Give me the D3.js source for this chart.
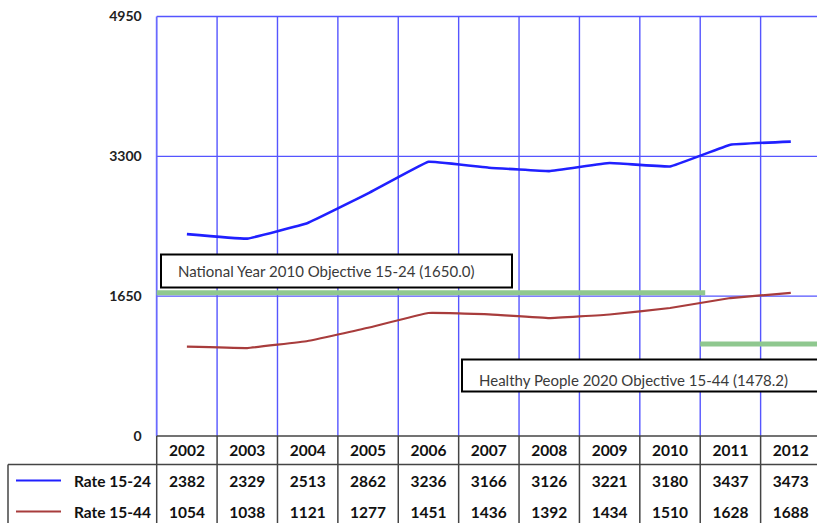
<!DOCTYPE html>
<html><head><meta charset="utf-8">
<script src="https://cdn.jsdelivr.net/npm/d3@7"></script>
<style>body{margin:0;background:#fff;}svg{display:block;}</style>
</head><body>
<svg id="c" width="817" height="523"></svg>
<script>
const years = ["2002","2003","2004","2005","2006","2007","2008","2009","2010","2011","2012"];
const rate1524 = [2382,2329,2513,2862,3236,3166,3126,3221,3180,3437,3473];
const rate1544 = [1054,1038,1121,1277,1451,1436,1392,1434,1510,1628,1688];
const seriesNames = ["Rate 15-24","Rate 15-44"];
const yTicks = [0,1650,3300,4950];
const objectiveLabels = ["National Year 2010 Objective 15-24 (1650.0)","Healthy People 2020 Objective 15-44 (1478.2)"];
const objectiveLevels = [1690,1085]; // drawn levels
const objectiveSpans = [["2002","2010"],["2011","2012"]];

(function(){
const svg = d3.select("#c");
const pLeft = 156.7, pRight = 821, pTop = 16.5, pBottom = 436;
const x = d3.scaleBand().domain(years).range([pLeft, pRight]);
const y = d3.scaleLinear().domain([0, 4950]).range([pBottom, pTop]);
const font = "Lato, 'Open Sans', sans-serif";
const gridColor = "#5555ff";

// gridlines
const g = svg.append("g");
g.selectAll("line.v").data(years.slice(1)).enter().append("line")
  .attr("x1", d => x(d)).attr("x2", d => x(d)).attr("y1", pTop).attr("y2", pBottom)
  .attr("stroke", gridColor).attr("stroke-width", 1.4);
g.selectAll("line.h").data(yTicks.slice(1)).enter().append("line")
  .attr("x1", pLeft).attr("x2", pRight).attr("y1", d => y(d)).attr("y2", d => y(d))
  .attr("stroke", gridColor).attr("stroke-width", 1.4);
g.append("line").attr("x1", pLeft).attr("x2", pLeft).attr("y1", pTop).attr("y2", pBottom)
  .attr("stroke", "#6a6aff").attr("stroke-width", 1.8);

// y axis labels
const yAxis = d3.axisLeft(y).tickValues(yTicks).tickSize(0).tickPadding(15).tickFormat(d3.format("d"));
svg.append("g").attr("transform", `translate(${pLeft},0)`).call(yAxis)
  .call(s => s.select(".domain").remove())
  .selectAll("text").attr("font-family", font).attr("font-weight", "bold")
  .attr("font-size", 14).attr("fill", "#222");

// objective lines
objectiveLevels.forEach((v, i) => {
  const [a, b] = objectiveSpans[i];
  const x1 = i === 0 ? pLeft : x(a);
  const x2 = i === 0 ? x(years[years.indexOf(b) + 1]) + 5 : pRight;
  svg.append("line").attr("x1", x1).attr("x2", x2).attr("y1", y(v)).attr("y2", y(v))
    .attr("stroke", "#8fc88f").attr("stroke-width", 5);
});

// series lines
const line = d3.line().x((d, i) => x(years[i]) + x.bandwidth() / 2).y(d => y(d)).curve(d3.curveCardinal.tension(0.8));
const colors = ["#2020ff", "#a83c3c"];
[rate1524, rate1544].forEach((s, i) => {
  svg.append("path").datum(s).attr("d", line).attr("fill", "none")
    .attr("stroke", colors[i]).attr("stroke-width", i === 0 ? 2.6 : 2.2);
});

// annotation boxes
const boxes = [{x: 161, y: 254.5, w: 351, h: 33, tx: 178, ty: 277},
               {x: 462, y: 359.5, w: 370, h: 32, tx: 479, ty: 386}];
boxes.forEach((b, i) => {
  svg.append("rect").attr("x", b.x).attr("y", b.y).attr("width", b.w).attr("height", b.h)
    .attr("fill", "#fff").attr("stroke", "#000").attr("stroke-width", 2);
  svg.append("text").attr("x", b.tx).attr("y", b.ty).text(objectiveLabels[i])
    .attr("font-family", font).attr("font-size", 15).attr("fill", "#3a3a3a");
});

// data table
const rowTop = 436, rowH = 28.5;
const tbl = svg.append("g");
const lineColor = "#444";
tbl.append("line").attr("x1", pLeft).attr("x2", pRight).attr("y1", rowTop).attr("y2", rowTop)
  .attr("stroke", lineColor).attr("stroke-width", 1.5);
tbl.append("line").attr("x1", 8).attr("x2", pRight).attr("y1", rowTop + rowH).attr("y2", rowTop + rowH)
  .attr("stroke", lineColor).attr("stroke-width", 1.5);
tbl.append("line").attr("x1", 8).attr("x2", 8).attr("y1", rowTop + rowH).attr("y2", 523)
  .attr("stroke", lineColor).attr("stroke-width", 1.5);
tbl.selectAll("line.tv").data(years).enter().append("line")
  .attr("x1", d => x(d)).attr("x2", d => x(d)).attr("y1", rowTop).attr("y2", 523)
  .attr("stroke", lineColor).attr("stroke-width", 1.5);
tbl.selectAll("text.yr").data(years).enter().append("text")
  .attr("x", d => x(d) + x.bandwidth() / 2).attr("y", rowTop + 20)
  .attr("text-anchor", "middle").text(d => d)
  .attr("font-family", font).attr("font-weight", "bold").attr("font-size", 15.5).attr("fill", "#111");
[rate1524, rate1544].forEach((s, r) => {
  const cy = rowTop + rowH + 16 + r * 31;
  tbl.selectAll(null).data(s).enter().append("text")
    .attr("x", (d, i) => x(years[i]) + x.bandwidth() / 2).attr("y", cy + 6)
    .attr("text-anchor", "middle").text(d => d)
    .attr("font-family", font).attr("font-weight", "bold").attr("font-size", 15.5).attr("fill", "#111");
  tbl.append("line").attr("x1", 16).attr("x2", 61).attr("y1", cy).attr("y2", cy)
    .attr("stroke", colors[r]).attr("stroke-width", 2.2);
  tbl.append("text").attr("x", 151).attr("y", cy + 6).attr("text-anchor", "end")
    .text(seriesNames[r]).attr("font-family", font).attr("font-weight", "bold")
    .attr("font-size", 15.5).attr("fill", "#111");
});
})();
</script>
</body></html>
